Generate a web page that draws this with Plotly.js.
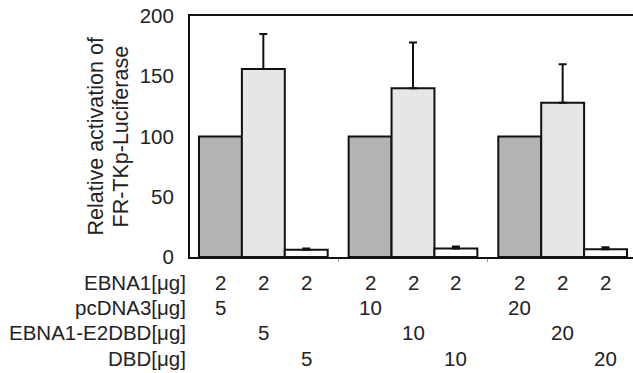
<!DOCTYPE html>
<html>
<head>
<meta charset="utf-8">
<script src="https://cdn.plot.ly/plotly-3.0.1.min.js"></script>
<style>html,body{margin:0;padding:0;background:#fff;}#chart{width:633px;height:373px;}</style>
</head>
<body>
<div id="chart"></div>
<script>
// Groups: amount (µg) of co-transfected plasmid
const groups = ['5', '10', '20'];
const groupAmounts = ['5', '10', '20'];
const ebna1Amount = '2';

// Series (relative activation of FR-TKp-Luciferase)
const seriesNames = ['pcDNA3', 'EBNA1-E2DBD', 'DBD'];
const pcdna3Values = [100, 100, 100];
const e2dbdValues = [156, 140, 128];
const e2dbdErr = [29, 38, 32];
const dbdValues = [6, 7, 6.5];
const dbdErr = [1, 1.7, 1.5];

// Table row labels under the chart
const rowLabels = ['EBNA1[μg]', 'pcDNA3[μg]', 'EBNA1-E2DBD[μg]', 'DBD[μg]'];

const yTickVals = [0, 50, 100, 150, 200];
const yTitleLines = ['Relative activation of', 'FR-TKp-Luciferase'];

const FONT = 'Arial, "Liberation Sans", sans-serif';
const TXT = '#222';
const barColors = ['#b3b3b3', '#e6e6e6', '#ffffff'];

const seriesValues = [pcdna3Values, e2dbdValues, dbdValues];
const seriesErr = [null, e2dbdErr, dbdErr];

const traces = seriesNames.map((name, k) => {
  const t = {
    type: 'bar', name: name, x: groups, y: seriesValues[k],
    marker: {color: barColors[k], line: {color: '#111', width: 2}},
    hoverinfo: 'skip'
  };
  if (seriesErr[k]) {
    t.error_y = {type: 'data', symmetric: false, array: seriesErr[k],
      arrayminus: seriesErr[k].map(() => 0), color: '#111', thickness: 2, width: 4};
  }
  return t;
});

// bar geometry helpers (fractions of a category)
const bargap = 0.14;
const barW = (1 - bargap) / seriesNames.length;
const barOffset = k => (k - (seriesNames.length - 1) / 2) * barW;

// plot area rows (paper y) for the table
const rowY = [-0.106, -0.209, -0.315, -0.42];
const TS = 20.5;

const annotations = [];
rowLabels.forEach((lab, r) => {
  annotations.push({text: lab, xref: 'paper', yref: 'paper', x: 0, xshift: -2, y: rowY[r],
    xanchor: 'right', yanchor: 'middle', showarrow: false,
    font: {family: FONT, size: TS, color: TXT}});
});
groups.forEach((g, i) => {
  seriesNames.forEach((s, k) => {
    annotations.push({text: ebna1Amount, xref: 'x', yref: 'paper', x: i + barOffset(k), y: rowY[0],
      xanchor: 'center', yanchor: 'middle', showarrow: false,
      font: {family: FONT, size: TS, color: TXT}});
    annotations.push({text: groupAmounts[i], xref: 'x', yref: 'paper', x: i + barOffset(k), y: rowY[k + 1],
      xanchor: 'center', yanchor: 'middle', showarrow: false,
      font: {family: FONT, size: TS, color: TXT}});
  });
});
// y title lines (rotated)
const titleShift = [-95, -70];
yTitleLines.forEach((line, j) => {
  annotations.push({text: line, xref: 'paper', yref: 'paper', x: 0, xshift: titleShift[j], y: 0.5,
    xanchor: 'center', yanchor: 'middle', textangle: -90, showarrow: false,
    font: {family: FONT, size: 21.5, color: TXT}});
});

const layout = {
  width: 633, height: 373,
  margin: {l: 190, r: 0, t: 16, b: 116, pad: 0},
  paper_bgcolor: '#fff', plot_bgcolor: '#fff',
  showlegend: false,
  barmode: 'group', bargap: bargap, bargroupgap: 0,
  font: {family: FONT, size: TS, color: TXT},
  xaxis: {
    type: 'category', range: [-0.49, 2.47],
    showline: true, linecolor: '#111', linewidth: 2, mirror: true,
    showgrid: false, zeroline: false,
    showticklabels: false, ticks: 'outside', tickson: 'boundaries', ticklen: 3, tickcolor: '#999', tickwidth: 1
  },
  yaxis: {
    range: [0, 200], tickvals: yTickVals, ticktext: yTickVals.map(String),
    showline: true, linecolor: '#111', linewidth: 2,
    showgrid: false, zeroline: false, ticks: '', ticklabelstandoff: 10,
    tickfont: {family: FONT, size: 20.5, color: TXT}
  },
  annotations: annotations
};

Plotly.newPlot('chart', traces, layout, {staticPlot: true, displayModeBar: false});
</script>
</body>
</html>
